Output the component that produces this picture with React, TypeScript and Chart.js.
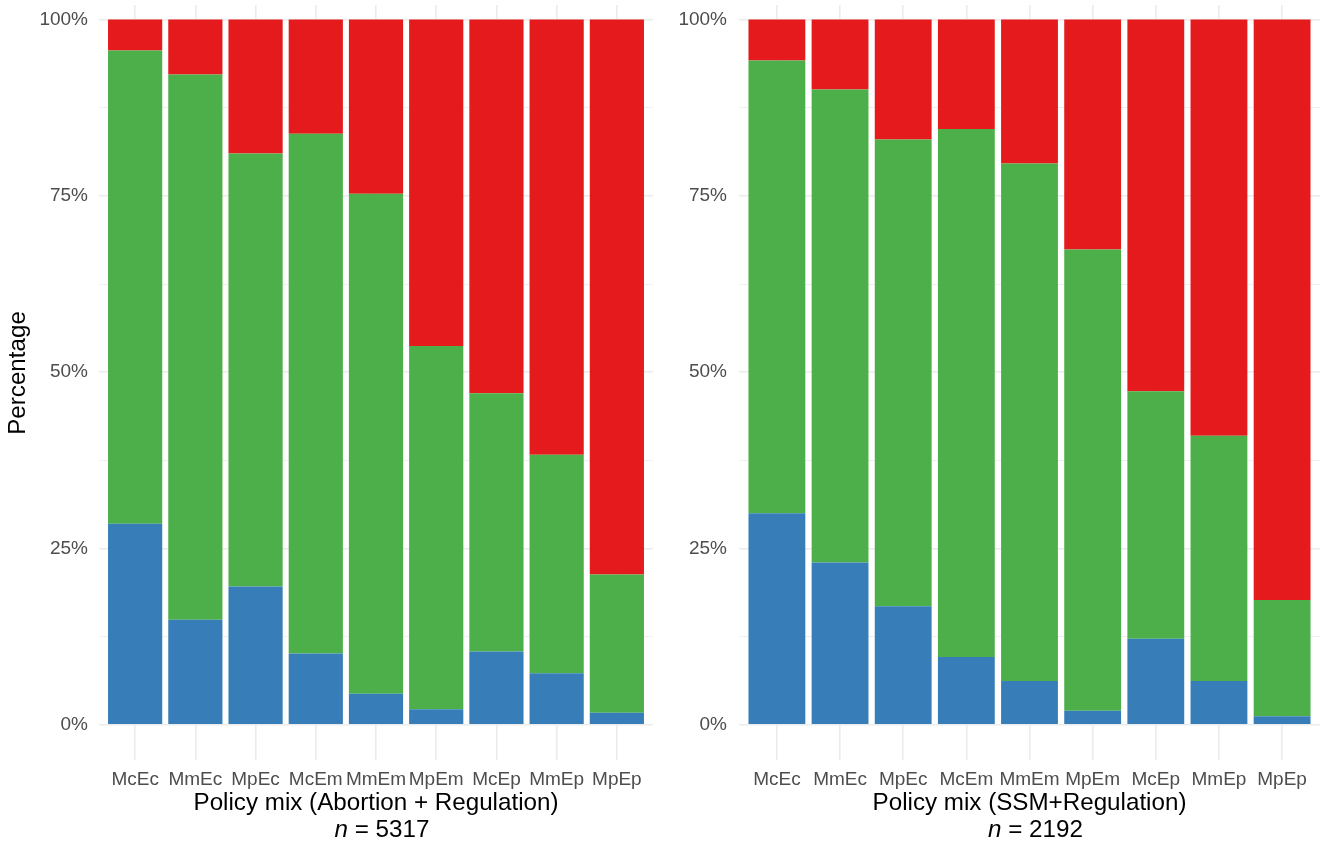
import React, { useEffect, useRef } from "react";
import { Chart, registerables } from "chart.js";

Chart.register(...registerables);

const categories = ["McEc", "MmEc", "MpEc", "McEm", "MmEm", "MpEm", "McEp", "MmEp", "MpEp"];
const yTickValues = [0, 12.5, 25, 37.5, 50, 62.5, 75, 87.5, 100];

// Abortion + Regulation (shares in %, bottom to top: blue, green, red)
const abortionBlue = [28.5, 14.9, 19.6, 10.1, 4.4, 2.2, 10.4, 7.3, 1.7];
const abortionGreen = [67.1, 77.3, 61.4, 73.7, 70.9, 51.5, 36.6, 31.0, 19.6];
const abortionRed = [4.4, 7.8, 19.0, 16.2, 24.7, 46.3, 53.0, 61.7, 78.7];

// SSM + Regulation
const ssmBlue = [30.0, 23.0, 16.8, 9.6, 6.2, 2.0, 12.2, 6.2, 1.2];
const ssmGreen = [64.2, 67.1, 66.2, 74.9, 73.4, 65.4, 35.1, 34.8, 16.5];
const ssmRed = [5.8, 9.9, 17.0, 15.5, 20.4, 32.6, 52.7, 59.0, 82.3];

const BLUE = "#377EB8";
const GREEN = "#4DAF4A";
const RED = "#E41A1C";
const GRID = "#EBEBEB";
const FONT = "'Liberation Sans', Arial, sans-serif";
const TICK_COLOR = "#4D4D4D";
const TITLE_SIZE = 24.2;

type PanelProps = {
  blue: number[];
  green: number[];
  red: number[];
  title: string;
  n: string;
  showYTitle: boolean;
  left: number;
  width: number;
  yAxisWidth: number;
  rightPad: number;
  yTickPad: number;
};

function Panel(props: PanelProps) {
  const ref = useRef<HTMLCanvasElement | null>(null);
  useEffect(() => {
    const canvas = ref.current;
    if (!canvas) return;
    const toPts = (arr: number[]) => arr.map((v, i) => ({ x: i, y: v }));
    const titles = {
      id: "panelTitles",
      afterDraw(chart: any) {
        const { ctx, chartArea } = chart;
        const cx = (chartArea.left + chartArea.right) / 2;
        ctx.save();
        ctx.fillStyle = "#000000";
        const normal = `${TITLE_SIZE}px ${FONT}`;
        const italic = `italic ${TITLE_SIZE}px ${FONT}`;
        ctx.font = normal;
        ctx.textAlign = "center";
        ctx.textBaseline = "alphabetic";
        ctx.fillText(props.title, cx, 809.5);
        ctx.font = italic;
        const wN = ctx.measureText("n").width;
        ctx.font = normal;
        const rest = " = " + props.n;
        const wR = ctx.measureText(rest).width;
        const start = cx + 6 - (wN + wR) / 2;
        ctx.textAlign = "left";
        ctx.font = italic;
        ctx.fillText("n", start, 837);
        ctx.font = normal;
        ctx.fillText(rest, start + wN, 837);
        if (props.showYTitle) {
          ctx.translate(24.5, 373);
          ctx.rotate(-Math.PI / 2);
          ctx.textAlign = "center";
          ctx.font = normal;
          ctx.fillText("Percentage", 0, 0);
        }
        ctx.restore();
      },
    };
    const chart = new Chart(canvas, {
      type: "bar",
      data: {
        datasets: [
          { label: "blue", data: toPts(props.blue) as any, backgroundColor: BLUE, borderWidth: 0 },
          { label: "green", data: toPts(props.green) as any, backgroundColor: GREEN, borderWidth: 0 },
          { label: "red", data: toPts(props.red) as any, backgroundColor: RED, borderWidth: 0 },
        ],
      },
      options: {
        responsive: false,
        animation: false,
        events: [],
        layout: { padding: { top: 5, right: props.rightPad, bottom: 0, left: 0 } },
        datasets: { bar: { barPercentage: 0.9, categoryPercentage: 1 } } as any,
        plugins: { legend: { display: false }, tooltip: { enabled: false }, title: { display: false } },
        scales: {
          x: {
            type: "linear",
            stacked: true,
            min: -0.6,
            max: 8.6,
            bounds: "data",
            offset: false,
            border: { display: false },
            grid: { color: GRID, lineWidth: 1.6, drawTicks: false, offset: false },
            afterBuildTicks: (scale: any) => {
              scale.ticks = categories.map((_, i) => ({ value: i }));
            },
            afterFit: (scale: any) => {
              scale.height = 83;
              scale.paddingLeft = 0;
              scale.paddingRight = 0;
            },
            ticks: {
              autoSkip: false,
              maxRotation: 0,
              minRotation: 0,
              padding: 8,
              color: TICK_COLOR,
              font: { family: FONT, size: 19 },
              callback: (v: any) => categories[Math.round(Number(v))] ?? "",
            },
          },
          y: {
            type: "linear",
            stacked: true,
            min: -5.0,
            max: 102.07,
            bounds: "data",
            border: { display: false },
            grid: {
              color: GRID,
              drawTicks: false,
              lineWidth: (c: any) => (c.tick && c.tick.value % 25 === 0 ? 1.6 : 0.8),
            },
            afterBuildTicks: (scale: any) => {
              scale.ticks = yTickValues.map((v) => ({ value: v }));
            },
            afterFit: (scale: any) => {
              scale.width = props.yAxisWidth;
              scale.paddingTop = 0;
              scale.paddingBottom = 0;
            },
            ticks: {
              padding: props.yTickPad,
              color: TICK_COLOR,
              font: { family: FONT, size: 19 },
              callback: (v: any) => (Number(v) % 25 === 0 ? `${v}%` : ""),
            },
          },
        },
      },
      plugins: [titles],
    });
    return () => chart.destroy();
  }, []);
  return (
    <canvas
      ref={ref}
      width={props.width}
      height={843}
      style={{ position: "absolute", left: props.left, top: 0, width: props.width, height: 843 }}
    />
  );
}

export default function App() {
  return (
    <div style={{ position: "absolute", left: 0, top: 0, width: 1320, height: 843, background: "#ffffff", overflow: "hidden" }}>
      <Panel
        blue={abortionBlue}
        green={abortionGreen}
        red={abortionRed}
        title="Policy mix (Abortion + Regulation)"
        n="5317"
        showYTitle={true}
        left={0}
        width={660}
        yAxisWidth={99}
        rightPad={7}
        yTickPad={11}
      />
      <Panel
        blue={ssmBlue}
        green={ssmGreen}
        red={ssmRed}
        title="Policy mix (SSM+Regulation)"
        n="2192"
        showYTitle={false}
        left={660}
        width={660}
        yAxisWidth={79}
        rightPad={0}
        yTickPad={12}
      />
    </div>
  );
}
